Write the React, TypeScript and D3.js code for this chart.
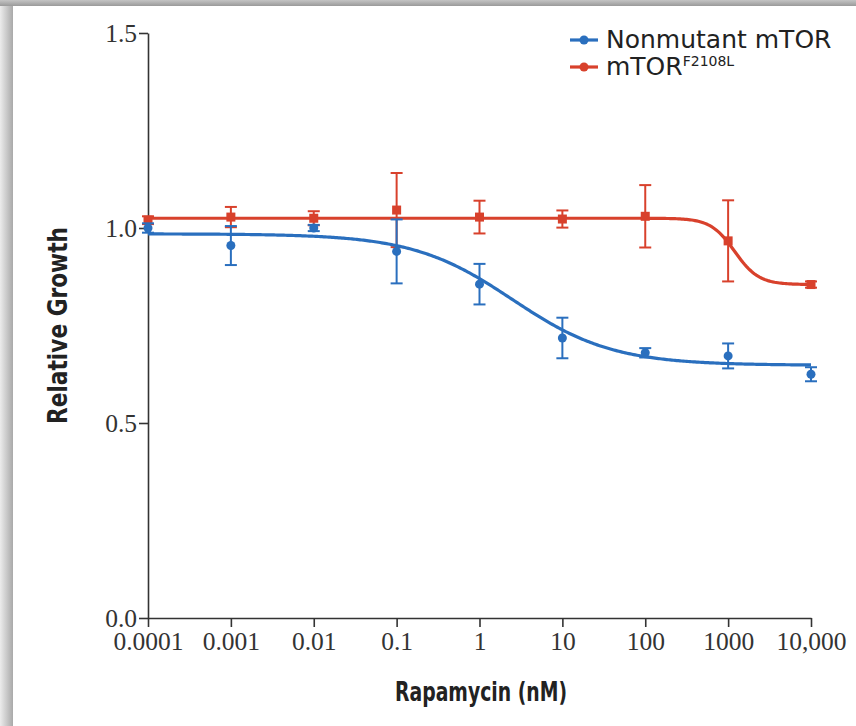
import { useEffect, useRef } from 'react'
import * as d3 from 'd3'

// doses in nM
const doses = [0.0001, 0.001, 0.01, 0.1, 1, 10, 100, 1000, 10000]
const doseLabels = ['0.0001', '0.001', '0.01', '0.1', '1', '10', '100', '1000', '10,000']
const growthTicks = [0, 0.5, 1.0, 1.5]

const nonmutantMean = [1.0, 0.955, 1.0, 0.94, 0.856, 0.718, 0.68, 0.672, 0.625]
const nonmutantErr = [0.012, 0.05, 0.008, 0.082, 0.052, 0.052, 0.012, 0.032, 0.018]
const mutantMean = [1.02, 1.028, 1.025, 1.046, 1.028, 1.023, 1.03, 0.967, 0.855]
const mutantErr = [0.01, 0.026, 0.018, 0.095, 0.042, 0.022, 0.08, 0.104, 0.008]

// fitted dose-response curves: [top, bottom, EC50 (nM), hill]
const nonmutantFit = [0.985, 0.648, 2.5, 0.72]
const mutantFit = [1.025, 0.855, 1200, 3]

const BLUE = '#2a6fbe'
const RED = '#d8412c'

export default function App() {
  const svgRef = useRef<SVGSVGElement | null>(null)

  useEffect(() => {
    if (!svgRef.current) return
    const width = 856
    const height = 726
    const svg = d3.select(svgRef.current)
    svg.selectAll('*').remove()

    // card shadow at the left and top edge
    const defs = svg.append('defs')
    const gl = defs.append('linearGradient').attr('id', 'shadeL').attr('x1', 0).attr('x2', 1).attr('y1', 0).attr('y2', 0)
    gl.append('stop').attr('offset', '0%').attr('stop-color', '#ececec')
    gl.append('stop').attr('offset', '100%').attr('stop-color', '#a9a9a9')
    const gt = defs.append('linearGradient').attr('id', 'shadeT').attr('x1', 0).attr('x2', 0).attr('y1', 0).attr('y2', 1)
    gt.append('stop').attr('offset', '0%').attr('stop-color', '#c4c4c4')
    gt.append('stop').attr('offset', '100%').attr('stop-color', '#9a9a9a')

    svg.append('rect').attr('width', width).attr('height', height).attr('fill', '#fff')
    svg.append('rect').attr('x', 0).attr('y', 0).attr('width', 13).attr('height', height).attr('fill', 'url(#shadeL)')
    svg.append('rect').attr('x', 0).attr('y', 0).attr('width', width).attr('height', 6).attr('fill', 'url(#shadeT)')

    const x = d3.scaleLog().domain([1e-4, 1e4]).range([148, 811])
    const y = d3.scaleLinear().domain([0, 1.5]).range([618, 33])

    // axes
    const yAxis = svg.append('g')
      .attr('transform', `translate(${x(1e-4)},0)`)
      .call(d3.axisLeft(y).tickValues(growthTicks).tickFormat(d3.format('.1f')).tickSize(9).tickSizeOuter(0))
    const xAxis = svg.append('g')
      .attr('transform', `translate(0,${y(0)})`)
      .call(d3.axisBottom(x).tickValues(doses).tickFormat((d, i) => doseLabels[i]).tickSize(9).tickSizeOuter(0))

    for (const ax of [xAxis, yAxis]) {
      ax.select('.domain').attr('stroke', '#333').attr('stroke-width', 1.6)
      ax.selectAll('.tick line').attr('stroke', '#333').attr('stroke-width', 1.6)
      ax.selectAll('.tick text')
        .attr('fill', '#333')
        .attr('font-family', 'Liberation Serif, serif')
        .attr('font-size', 25.5)
    }
    yAxis.selectAll('.tick text').attr('x', -11)
    xAxis.selectAll('.tick text').attr('y', 14)

    // axis titles (condensed bold)
    const titleFont = 'DejaVu Sans Condensed, DejaVu Sans, sans-serif'
    svg.append('text')
      .attr('x', 481).attr('y', 701)
      .attr('text-anchor', 'middle')
      .attr('font-family', titleFont)
      .attr('font-weight', 'bold')
      .attr('font-size', 26)
      .attr('textLength', 172)
      .attr('lengthAdjust', 'spacingAndGlyphs')
      .attr('fill', '#222')
      .text('Rapamycin (nM)')
    svg.append('text')
      .attr('transform', `translate(67,${y(0.75)}) rotate(-90)`)
      .attr('text-anchor', 'middle')
      .attr('font-family', titleFont)
      .attr('font-weight', 'bold')
      .attr('font-size', 26)
      .attr('textLength', 197)
      .attr('lengthAdjust', 'spacingAndGlyphs')
      .attr('fill', '#222')
      .text('Relative Growth')

    // fitted curves
    const logistic = (p: number[]) => (c: number) => p[1] + (p[0] - p[1]) / (1 + Math.pow(c / p[2], p[3]))
    const samples = d3.range(0, 401).map(i => Math.pow(10, -4 + i * 0.02))
    const line = d3.line<number[]>().x(d => x(d[0])).y(d => y(d[1]))

    const series = [
      { mean: mutantMean, err: mutantErr, fit: mutantFit, color: RED, shape: 'square' },
      { mean: nonmutantMean, err: nonmutantErr, fit: nonmutantFit, color: BLUE, shape: 'circle' },
    ]

    series.forEach(s => {
      const f = logistic(s.fit)
      svg.append('path')
        .attr('d', line(samples.map(c => [c, f(c)])))
        .attr('fill', 'none')
        .attr('stroke', s.color)
        .attr('stroke-width', 3.2)

      const g = svg.append('g').attr('stroke', s.color).attr('fill', s.color)
      doses.forEach((c, i) => {
        const cx = x(c)
        const y1 = y(s.mean[i] + s.err[i])
        const y2 = y(s.mean[i] - s.err[i])
        g.append('line').attr('x1', cx).attr('x2', cx).attr('y1', y1).attr('y2', y2).attr('stroke-width', 2)
        g.append('line').attr('x1', cx - 6).attr('x2', cx + 6).attr('y1', y1).attr('y2', y1).attr('stroke-width', 2)
        g.append('line').attr('x1', cx - 6).attr('x2', cx + 6).attr('y1', y2).attr('y2', y2).attr('stroke-width', 2)
        if (s.shape === 'circle') {
          g.append('circle').attr('cx', cx).attr('cy', y(s.mean[i])).attr('r', 4.5).attr('stroke', 'none')
        } else {
          g.append('rect').attr('x', cx - 4.5).attr('y', y(s.mean[i]) - 4.5).attr('width', 9).attr('height', 9).attr('stroke', 'none')
        }
      })
    })

    // legend
    const legend = svg.append('g').attr('font-family', 'DejaVu Sans, sans-serif').attr('fill', '#222')
    const items = [
      { label: 'Nonmutant mTOR', sup: '', color: BLUE, ly: 40 },
      { label: 'mTOR', sup: 'F2108L', color: RED, ly: 67 },
    ]
    items.forEach(it => {
      legend.append('line').attr('x1', 570).attr('x2', 598).attr('y1', it.ly).attr('y2', it.ly)
        .attr('stroke', it.color).attr('stroke-width', 3.2)
      legend.append('circle').attr('cx', 584).attr('cy', it.ly).attr('r', 4.5).attr('fill', it.color)
      const t = legend.append('text').attr('x', 606).attr('y', it.ly + 8).attr('font-size', 25)
      t.append('tspan').text(it.label)
      if (it.sup) t.append('tspan').attr('font-size', 14).attr('dy', -9).text(it.sup)
    })
  }, [])

  return (
    <svg
      ref={svgRef}
      width={856}
      height={726}
      style={{ position: 'absolute', left: 0, top: 0, display: 'block' }}
    />
  )
}
